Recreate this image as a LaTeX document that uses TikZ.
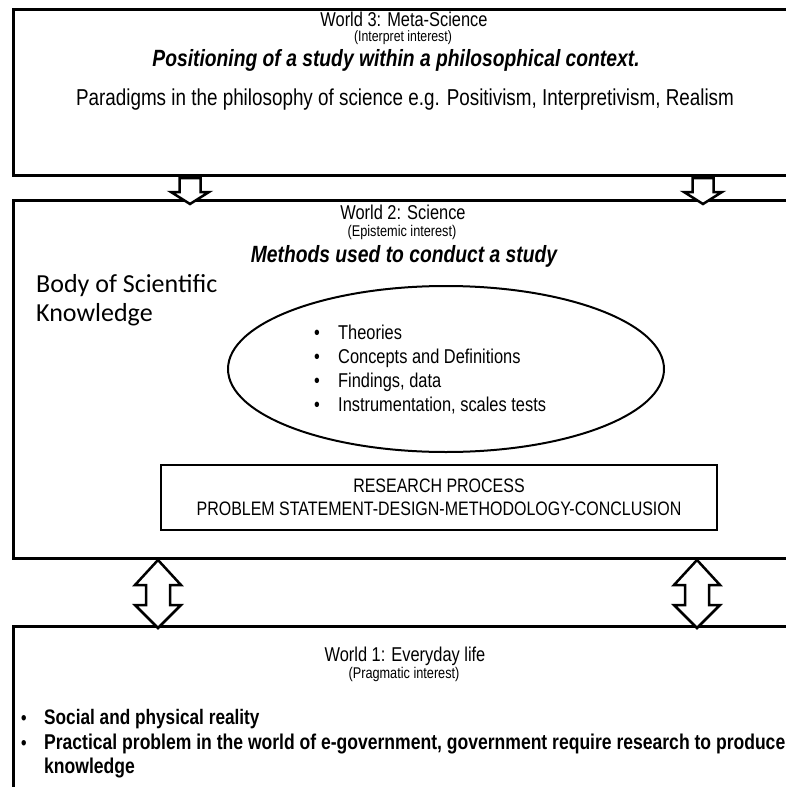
\documentclass[tikz,border=0pt]{standalone}
\usepackage{fontspec}
\setmainfont{Liberation Sans}[FakeStretch=0.82]
\newfontfamily\calfont{Carlito}
\usetikzlibrary{shapes.geometric,calc}

\begin{document}
\begin{tikzpicture}[x=1pt,y=-1pt,
  world/.style={draw, line width=3pt, minimum width=800pt, anchor=north west, inner sep=0pt},
  txt/.style={inner sep=0pt, anchor=base},
  ltxt/.style={inner sep=0pt, anchor=base west},
  fs/.style={font=\fontsize{#1}{#1}\selectfont},
  bi/.style={font=\fontsize{#1}{#1}\selectfont\bfseries\itshape},
  bd/.style={font=\fontsize{#1}{#1}\selectfont\bfseries},
  blockarrow/.style={draw, fill=white, line width=2.5pt, line join=miter},
  downarrow/.pic={
    \path[blockarrow] (-10.5,0) -- (10.5,0) -- (10.5,14) -- (19,14) -- (0,26)
      -- (-19,14) -- (-10.5,14) -- cycle;
  },
  bothways/.pic={
    \path[blockarrow] (0,0) -- (23,25) -- (12,25) -- (12,45) -- (23,45) -- (0,68)
      -- (-23,45) -- (-12,45) -- (-12,25) -- (-23,25) -- cycle;
  },
]
\useasboundingbox (0,0) rectangle (786,787);
\fill[white] (0,0) rectangle (786,787);
\clip (0,0) rectangle (786,787);

% the three worlds
\node[world, minimum height=166pt] (w3) at (12,8) {};
\node[world, minimum height=358pt] (w2) at (12,199) {};
\node[world, minimum height=200pt] (w1) at (12,625) {};

% World 3
\node[txt, fs=20] (w3title) at (404,26) {World 3: Meta-Science};
\node[txt, fs=15] (w3int) at (403,41) {(Interpret interest)};
\node[txt, bi=23.5] (w3head) at (396,66) {Positioning of a study within a philosophical context.};
\node[txt, fs=23] (w3par) at (405,105) {Paradigms in the philosophy of science e.g. Positivism, Interpretivism, Realism};

% arrows from World 3 down to World 2
\coordinate (d1) at ($(w3.south west)+(178,1)$);
\coordinate (d2) at ($(w3.south west)+(691,1)$);
\pic at (d1) {downarrow};
\pic at (d2) {downarrow};

% World 2
\node[txt, fs=20] (w2title) at (403,219) {World 2: Science};
\node[txt, fs=15.5] (w2int) at (402,236) {(Epistemic interest)};
\node[txt, bi=23.5] (w2head) at (404,262) {Methods used to conduct a study};
\node[ltxt, font=\calfont\fontsize{26}{26}\selectfont] (body1) at (36,292) {Body of Scientific};
\node[ltxt, font=\calfont\fontsize{26}{26}\selectfont] (body2) at (36,321) {Knowledge};

\node[draw, ellipse, line width=2pt, minimum width=436pt, minimum height=166pt] (ell) at (446,369) {};
\foreach \t [count=\i] in {Theories, Concepts and Definitions, {Findings, data}, {Instrumentation, scales tests}} {
  \node[ltxt, fs=20] (bul\i) at (314,{315+24*\i}) {•};
  \node[ltxt, fs=20] (item\i) at (338,{315+24*\i}) {\t};
}

\node[draw, line width=2.5pt, minimum width=556pt, minimum height=65pt, inner sep=0pt] (rp) at (439,497.5) {};
\node[txt, fs=19.5] (rp1) at (439,492) {RESEARCH PROCESS};
\node[txt, fs=19.5] (rp2) at (439,515) {PROBLEM STATEMENT-DESIGN-METHODOLOGY-CONCLUSION};

% two-way arrows between World 2 and World 1
\coordinate (u1) at ($(w2.south west)+(146,0)$);
\coordinate (u2) at ($(w2.south west)+(685,0)$);
\pic at (u1) {bothways};
\pic at (u2) {bothways};

% World 1
\node[txt, fs=20] (w1title) at (405,661) {World 1: Everyday life};
\node[txt, fs=15.5] (w1int) at (404,678) {(Pragmatic interest)};
\node[ltxt, bd=19] (wb1) at (21,724) {•};
\node[ltxt, bd=21] (wt1) at (44,724) {Social and physical reality};
\node[ltxt, bd=19] (wb2) at (21,749) {•};
\node[ltxt, bd=21.4] (wt2) at (44,749) {Practical problem in the world of e-government, government require research to produce};
\node[ltxt, bd=21.4] (wt3) at (44,773) {knowledge};
\end{tikzpicture}
\end{document}
